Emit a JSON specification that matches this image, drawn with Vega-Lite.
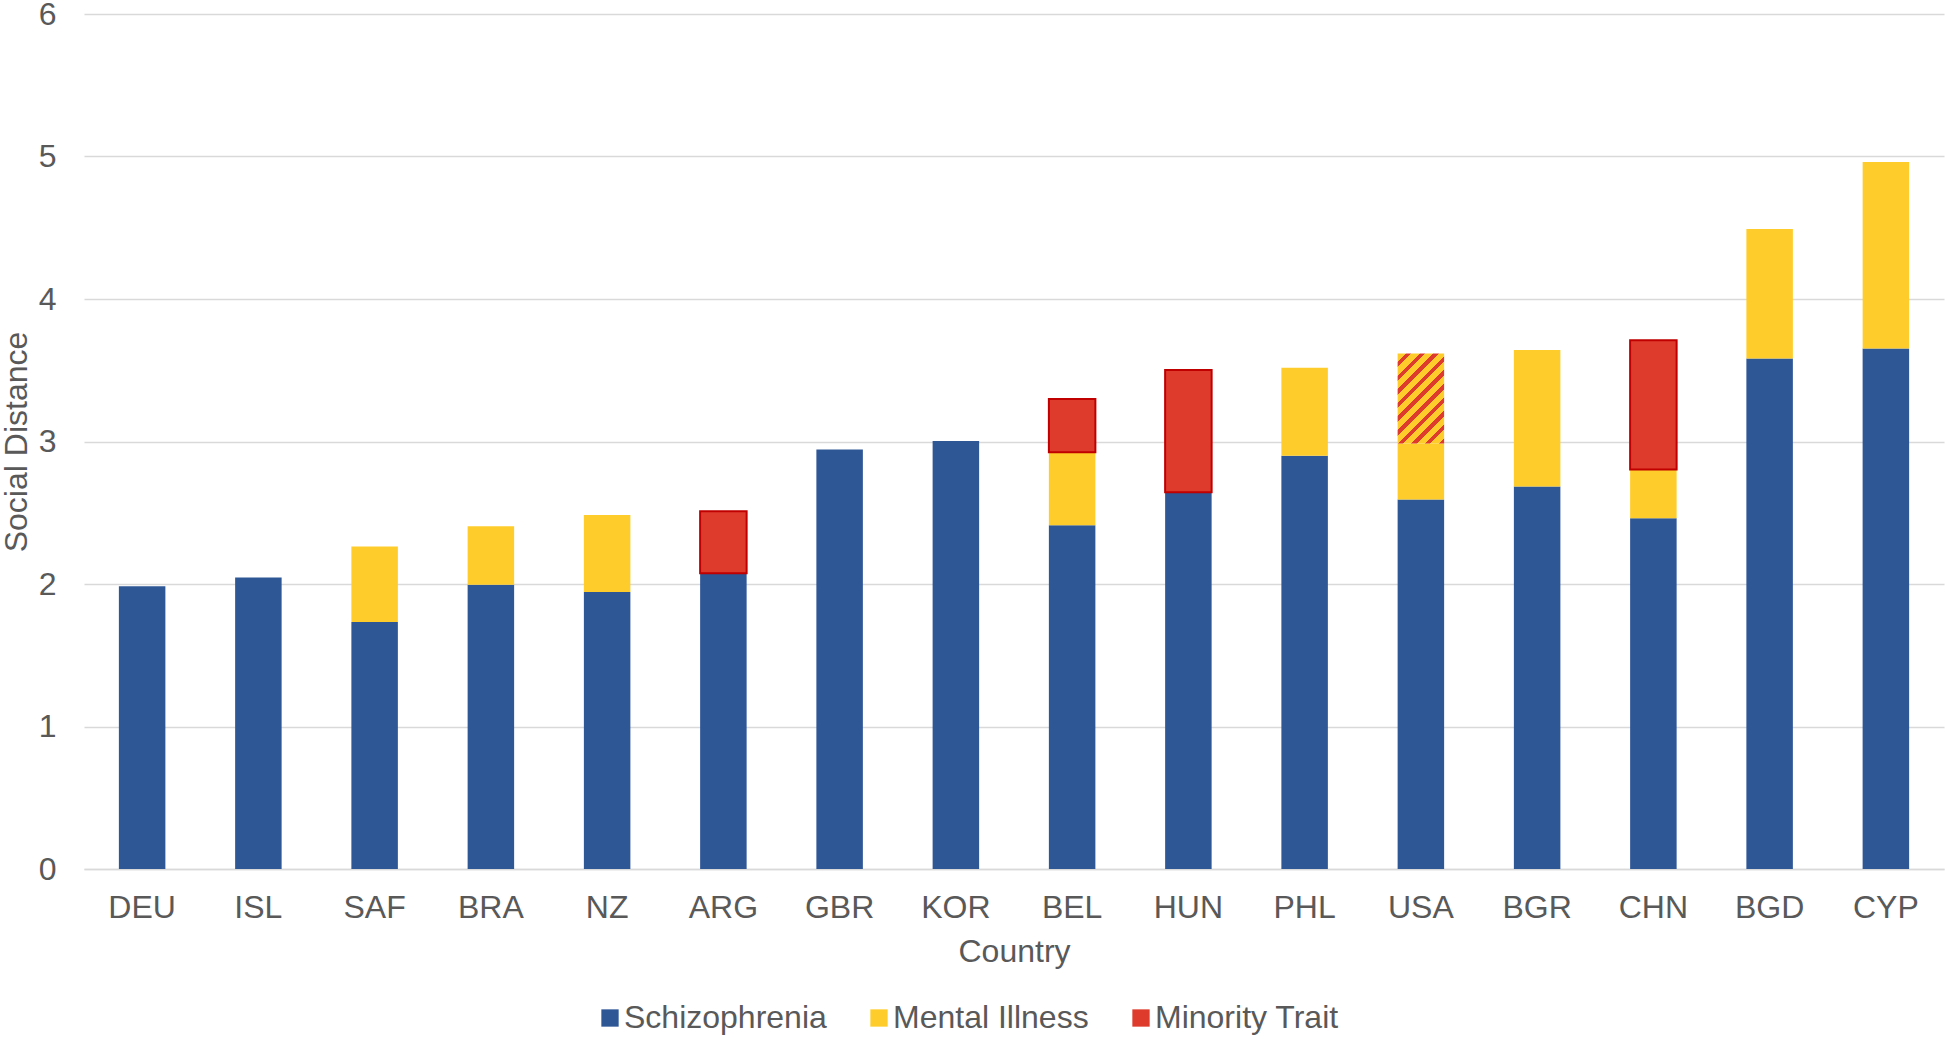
{
  "$schema": "https://vega.github.io/schema/vega-lite/v6.json",
  "width": 1860,
  "height": 855,
  "autosize": {"type": "none"},
  "padding": {"left": 84, "top": 14, "right": 2, "bottom": 170},
  "background": "white",
  "config": {
    "view": {"stroke": null},
    "font": "Liberation Sans",
    "axis": {"labelFont": "Liberation Sans", "titleFont": "Liberation Sans"},
    "legend": {"labelFont": "Liberation Sans"}
  },
  "data": {
    "values": [
      {"country": "DEU", "category": "Schizophrenia", "k": 1, "value": 1.985},
      {"country": "ISL", "category": "Schizophrenia", "k": 1, "value": 2.045},
      {"country": "SAF", "category": "Schizophrenia", "k": 1, "value": 1.734},
      {"country": "SAF", "category": "Mental Illness", "k": 2, "value": 0.529},
      {"country": "BRA", "category": "Schizophrenia", "k": 1, "value": 1.994},
      {"country": "BRA", "category": "Mental Illness", "k": 2, "value": 0.412},
      {"country": "NZ", "category": "Schizophrenia", "k": 1, "value": 1.943},
      {"country": "NZ", "category": "Mental Illness", "k": 2, "value": 0.542},
      {"country": "ARG", "category": "Schizophrenia", "k": 1, "value": 2.076},
      {"country": "ARG", "category": "Minority Trait", "k": 3, "value": 0.435},
      {"country": "GBR", "category": "Schizophrenia", "k": 1, "value": 2.943},
      {"country": "KOR", "category": "Schizophrenia", "k": 1, "value": 3.004},
      {"country": "BEL", "category": "Schizophrenia", "k": 1, "value": 2.413},
      {"country": "BEL", "category": "Mental Illness", "k": 2, "value": 0.512},
      {"country": "BEL", "category": "Minority Trait", "k": 3, "value": 0.374},
      {"country": "HUN", "category": "Schizophrenia", "k": 1, "value": 2.644},
      {"country": "HUN", "category": "Minority Trait", "k": 3, "value": 0.857},
      {"country": "PHL", "category": "Schizophrenia", "k": 1, "value": 2.9},
      {"country": "PHL", "category": "Mental Illness", "k": 2, "value": 0.618},
      {"country": "USA", "category": "Schizophrenia", "k": 1, "value": 2.593},
      {"country": "USA", "category": "Mental Illness", "k": 2, "value": 0.393},
      {"country": "USA", "category": "Mental Illness + Minority Trait", "k": 3, "value": 0.631},
      {"country": "BGR", "category": "Schizophrenia", "k": 1, "value": 2.684},
      {"country": "BGR", "category": "Mental Illness", "k": 2, "value": 0.958},
      {"country": "CHN", "category": "Schizophrenia", "k": 1, "value": 2.462},
      {"country": "CHN", "category": "Mental Illness", "k": 2, "value": 0.341},
      {"country": "CHN", "category": "Minority Trait", "k": 3, "value": 0.907},
      {"country": "BGD", "category": "Schizophrenia", "k": 1, "value": 3.582},
      {"country": "BGD", "category": "Mental Illness", "k": 2, "value": 0.909},
      {"country": "CYP", "category": "Schizophrenia", "k": 1, "value": 3.652},
      {"country": "CYP", "category": "Mental Illness", "k": 2, "value": 1.309}
    ]
  },
  "transform": [
    {"stack": "value", "groupby": ["country"], "sort": [{"field": "k", "order": "ascending"}], "as": ["y0", "y1"]}
  ],
  "encoding": {
    "x": {
      "field": "country",
      "type": "nominal",
      "sort": ["DEU", "ISL", "SAF", "BRA", "NZ", "ARG", "GBR", "KOR", "BEL", "HUN", "PHL", "USA", "BGR", "CHN", "BGD", "CYP"],
      "scale": {"paddingInner": 0.6, "paddingOuter": 0.3},
      "axis": {
        "title": "Country",
        "labelAngle": 0,
        "labelFontSize": 32,
        "labelColor": "#595959",
        "labelPadding": 23.5,
        "ticks": false,
        "domain": true,
        "domainColor": "#D9D9D9",
        "domainWidth": 1.3,
        "titleFontSize": 32,
        "titleColor": "#595959",
        "titleFontWeight": "normal",
        "titlePadding": 12.5
      }
    },
    "y": {
      "field": "y1",
      "type": "quantitative",
      "scale": {"domain": [0, 6], "nice": false},
      "axis": {
        "title": "Social Distance",
        "values": [0, 1, 2, 3, 4, 5, 6],
        "grid": true,
        "gridColor": "#D9D9D9",
        "gridWidth": 1.3,
        "domain": false,
        "ticks": false,
        "labelFontSize": 32,
        "labelColor": "#595959",
        "labelPadding": 28,
        "titleFontSize": 32,
        "titleColor": "#595959",
        "titleFontWeight": "normal",
        "titlePadding": 5
      }
    },
    "y2": {"field": "y0"}
  },
  "layer": [
    {
      "transform": [{"filter": "datum.category !== 'Mental Illness + Minority Trait'"}],
      "mark": {"type": "bar", "strokeWidth": 2},
      "encoding": {
        "color": {
          "field": "category",
          "type": "nominal",
          "scale": {
            "domain": ["Schizophrenia", "Mental Illness", "Minority Trait"],
            "range": ["#2E5796", "#FFCD2B", "#DF3B2D"]
          },
          "legend": {
            "orient": "none",
            "legendX": 510,
            "legendY": 988,
            "direction": "horizontal",
            "title": null,
            "padding": 0,
            "labelFontSize": 32,
            "labelColor": "#595959",
            "labelLimit": 500,
            "symbolType": "square",
            "symbolSize": 300,
            "labelOffset": -2,
            "columnPadding": 36,
            "encode": {
              "symbols": {
                "update": {
                  "stroke": {"signal": "datum.value === 'Minority Trait' ? '#C00000' : 'transparent'"},
                  "strokeWidth": {"value": 1.5}
                }
              }
            }
          }
        },
        "stroke": {
          "condition": {"test": "datum.category === 'Minority Trait'", "value": "#C00000"},
          "value": "transparent"
        }
      }
    },
    {
      "transform": [{"filter": "datum.category === 'Mental Illness + Minority Trait'"}],
      "mark": {
        "type": "bar",
        "fill": {
          "gradient": "linear",
          "x1": 0, "y1": 0, "x2": 0.619, "y2": 1.197,
          "stops": [
            {"offset": 0.0, "color": "#FFCD2B"}, {"offset": 0.06, "color": "#FFCD2B"}, {"offset": 0.06, "color": "#DF3B2D"}, {"offset": 0.1, "color": "#DF3B2D"},
            {"offset": 0.1, "color": "#FFCD2B"}, {"offset": 0.16, "color": "#FFCD2B"}, {"offset": 0.16, "color": "#DF3B2D"}, {"offset": 0.2, "color": "#DF3B2D"},
            {"offset": 0.2, "color": "#FFCD2B"}, {"offset": 0.26, "color": "#FFCD2B"}, {"offset": 0.26, "color": "#DF3B2D"}, {"offset": 0.3, "color": "#DF3B2D"},
            {"offset": 0.3, "color": "#FFCD2B"}, {"offset": 0.36, "color": "#FFCD2B"}, {"offset": 0.36, "color": "#DF3B2D"}, {"offset": 0.4, "color": "#DF3B2D"},
            {"offset": 0.4, "color": "#FFCD2B"}, {"offset": 0.46, "color": "#FFCD2B"}, {"offset": 0.46, "color": "#DF3B2D"}, {"offset": 0.5, "color": "#DF3B2D"},
            {"offset": 0.5, "color": "#FFCD2B"}, {"offset": 0.56, "color": "#FFCD2B"}, {"offset": 0.56, "color": "#DF3B2D"}, {"offset": 0.6, "color": "#DF3B2D"},
            {"offset": 0.6, "color": "#FFCD2B"}, {"offset": 0.66, "color": "#FFCD2B"}, {"offset": 0.66, "color": "#DF3B2D"}, {"offset": 0.7, "color": "#DF3B2D"},
            {"offset": 0.7, "color": "#FFCD2B"}, {"offset": 0.76, "color": "#FFCD2B"}, {"offset": 0.76, "color": "#DF3B2D"}, {"offset": 0.8, "color": "#DF3B2D"},
            {"offset": 0.8, "color": "#FFCD2B"}, {"offset": 0.86, "color": "#FFCD2B"}, {"offset": 0.86, "color": "#DF3B2D"}, {"offset": 0.9, "color": "#DF3B2D"},
            {"offset": 0.9, "color": "#FFCD2B"}, {"offset": 0.96, "color": "#FFCD2B"}, {"offset": 0.96, "color": "#DF3B2D"}, {"offset": 1.0, "color": "#DF3B2D"}
          ]
        }
      }
    }
  ]
}
